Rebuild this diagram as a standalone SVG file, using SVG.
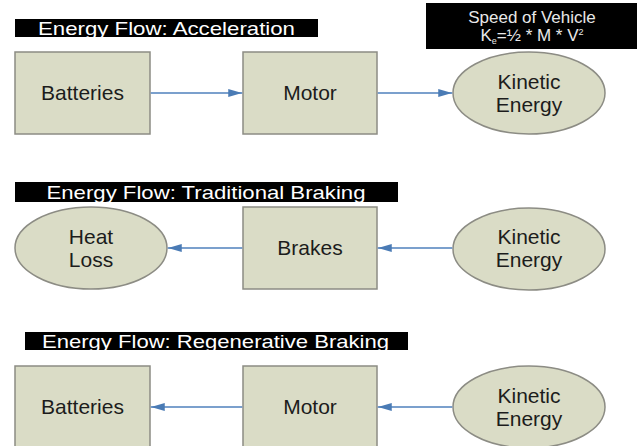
<svg xmlns="http://www.w3.org/2000/svg" width="639" height="446" viewBox="0 0 639 446">
  <style>
    .box { fill: #dadcc6; stroke: #8c8c84; stroke-width: 1.5; }
    .lbl { font-family: "Liberation Sans", Arial, sans-serif; font-size: 21px; fill: #1c1c1c; text-anchor: middle; }
    .bar { fill: #000; }
    .ttl { font-family: "Liberation Sans", Arial, sans-serif; font-size: 19px; fill: #fff; }
    .spd { font-family: "Liberation Sans", Arial, sans-serif; font-size: 17px; fill: #e8e8e8; text-anchor: middle; }
    .con { stroke: #4f81bd; stroke-width: 1.5; fill: none; marker-end: url(#ah); }
  </style>
  <defs>
    <marker id="ah" viewBox="0 0 14 8" refX="14" refY="4" markerWidth="14" markerHeight="8" markerUnits="userSpaceOnUse" orient="auto">
      <path d="M0,0 L14,4 L0,8 Z" fill="#4a7bb5"/>
    </marker>
  </defs>
  <rect width="639" height="446" fill="#fff"/>

  <g id="title-acceleration">
    <rect class="bar" x="15" y="19" width="303" height="18"/>
    <text class="ttl" x="38" y="34.5" textLength="257" lengthAdjust="spacingAndGlyphs">Energy Flow: Acceleration</text>
  </g>
  <g id="speed-box">
    <rect class="bar" x="426" y="3" width="211" height="46"/>
    <text class="spd" x="532" y="23">Speed of Vehicle</text>
    <text class="spd" x="532" y="41" font-size="15">K<tspan font-size="9" dy="3">e</tspan><tspan dy="-3">=½ * M * V</tspan><tspan font-size="9" dy="-6">2</tspan></text>
  </g>

  <g id="batteries1">
    <rect class="box" x="15" y="52" width="135" height="82"/>
    <text class="lbl" x="82.5" y="100">Batteries</text>
  </g>
  <g id="motor1">
    <rect class="box" x="243" y="52" width="134" height="82"/>
    <text class="lbl" x="310" y="100">Motor</text>
  </g>
  <g id="kinetic1">
    <ellipse class="box" cx="529" cy="93" rx="76" ry="41"/>
    <text class="lbl" x="529" y="89">Kinetic</text>
    <text class="lbl" x="529" y="112">Energy</text>
  </g>

  <g id="title-traditional">
    <rect class="bar" x="15" y="182" width="383" height="20"/>
    <text class="ttl" x="46.5" y="198.5" textLength="319" lengthAdjust="spacingAndGlyphs">Energy Flow: Traditional Braking</text>
  </g>
  <g id="heatloss">
    <ellipse class="box" cx="91" cy="248" rx="76" ry="41"/>
    <text class="lbl" x="91" y="244">Heat</text>
    <text class="lbl" x="91" y="267">Loss</text>
  </g>
  <g id="brakes">
    <rect class="box" x="243" y="207" width="134" height="82"/>
    <text class="lbl" x="310" y="255">Brakes</text>
  </g>
  <g id="kinetic2">
    <ellipse class="box" cx="529" cy="249" rx="76" ry="41"/>
    <text class="lbl" x="529" y="244">Kinetic</text>
    <text class="lbl" x="529" y="267">Energy</text>
  </g>

  <g id="title-regenerative">
    <rect class="bar" x="25" y="332" width="383" height="18"/>
    <text class="ttl" x="42" y="347.5" textLength="347" lengthAdjust="spacingAndGlyphs">Energy Flow: Regenerative Braking</text>
  </g>
  <g id="batteries3">
    <rect class="box" x="15" y="366" width="135" height="82"/>
    <text class="lbl" x="82.5" y="414">Batteries</text>
  </g>
  <g id="motor3">
    <rect class="box" x="243" y="366" width="134" height="82"/>
    <text class="lbl" x="310" y="414">Motor</text>
  </g>
  <g id="kinetic3">
    <ellipse class="box" cx="529" cy="407" rx="76" ry="41"/>
    <text class="lbl" x="529" y="403">Kinetic</text>
    <text class="lbl" x="529" y="426">Energy</text>
  </g>

  <g id="connectors">
    <line class="con" x1="150.75" y1="93" x2="242.25" y2="93"/>
    <line class="con" x1="377.75" y1="93" x2="452.25" y2="93"/>
    <line class="con" x1="242.25" y1="248" x2="167.75" y2="248"/>
    <line class="con" x1="452.25" y1="248" x2="377.75" y2="248"/>
    <line class="con" x1="242.25" y1="407" x2="150.75" y2="407"/>
    <line class="con" x1="452.25" y1="407" x2="377.75" y2="407"/>
  </g>
</svg>
